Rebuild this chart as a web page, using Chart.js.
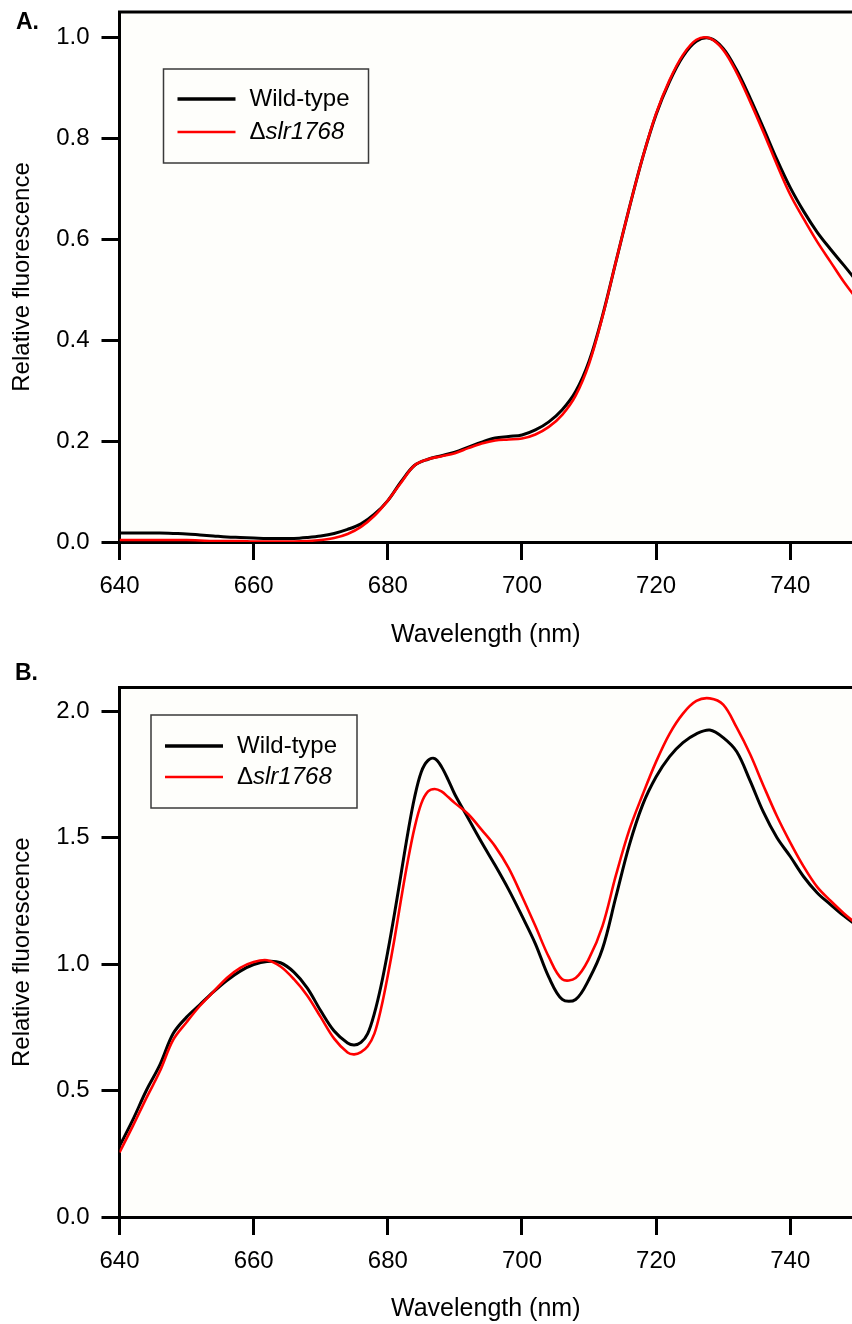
<!DOCTYPE html>
<html>
<head>
<meta charset="utf-8">
<script src="https://cdn.jsdelivr.net/npm/chart.js@4"></script>
<style>
  html, body { margin: 0; padding: 0; background: #ffffff; }
  body { width: 852px; height: 1324px; position: relative; overflow: hidden; }
  .panel { position: absolute; left: 0; width: 852px; height: 662px; }
  #pa { top: 0; }
  #pb { top: 662px; }
</style>
</head>
<body>
<div class="panel" id="pa"><canvas id="ca"></canvas></div>
<div class="panel" id="pb"><canvas id="cb"></canvas></div>
<script>
// ---------- data ----------
const seriesNames = ['Wild-type', 'Δslr1768'];
const xTitle = 'Wavelength (nm)';
const yTitle = 'Relative fluorescence';

const wavelengthA = [640,642,644,646,648,650,652,654,656,658,660,662,664,666,668,670,672,674,676,678,
  680,682,684,686,688,690,692,694,696,698,700,702,704,706,708,710,712,714,716,718,
  720,722,724,726,728,730,732,734,736,738,740,742,744,746,748,750];
const wildTypeA = [0.018,0.018,0.018,0.018,0.017,0.016,0.014,0.012,0.010,0.009,
  0.008,0.007,0.007,0.007,0.009,0.012,0.017,0.025,0.036,0.055,
  0.082,0.120,0.152,0.164,0.171,0.178,0.188,0.198,0.206,0.209,
  0.212,0.222,0.238,0.262,0.298,0.358,0.448,0.555,0.662,0.762,
  0.847,0.912,0.962,0.992,0.998,0.978,0.935,0.880,0.820,0.758,
  0.702,0.655,0.614,0.580,0.548,0.515];
const mutantA = [0.004,0.004,0.004,0.004,0.004,0.004,0.003,0.002,0.002,0.002,
  0.001,0.001,0.001,0.001,0.002,0.004,0.008,0.016,0.030,0.052,
  0.082,0.118,0.152,0.164,0.170,0.176,0.186,0.195,0.201,0.203,
  0.205,0.213,0.228,0.252,0.290,0.353,0.446,0.555,0.662,0.762,
  0.849,0.915,0.965,0.995,0.998,0.975,0.930,0.873,0.812,0.748,
  0.688,0.640,0.595,0.555,0.515,0.480];

const wavelengthB = [640,642,644,646,648,650,652,654,656,658,660,662,664,666,668,670,672,674,
  675,676,677,678,679,680,681,682,683,684,685,686,687,688,689,690,
  692,694,696,698,700,702,704,706,708,710,712,714,716,718,720,722,724,726,728,730,
  732,734,736,738,740,742,744,746,748,750];
const wildTypeB = [0.28,0.385,0.50,0.60,0.725,0.79,0.84,0.89,0.935,0.972,0.998,1.010,1.005,0.968,0.905,0.815,0.735,0.688,
  0.680,0.690,0.725,0.805,0.915,1.050,1.200,1.360,1.520,1.660,1.760,1.805,1.812,1.780,1.728,1.670,
  1.575,1.480,1.390,1.295,1.190,1.080,0.948,0.860,0.860,0.940,1.060,1.265,1.470,1.630,1.740,1.820,1.875,1.910,1.925,1.895,
  1.840,1.725,1.600,1.500,1.425,1.345,1.282,1.235,1.190,1.150];
const mutantB = [0.255,0.36,0.47,0.575,0.70,0.77,0.835,0.89,0.945,0.985,1.008,1.015,0.990,0.940,0.875,0.790,0.705,0.650,
  0.643,0.652,0.675,0.725,0.825,0.955,1.100,1.260,1.410,1.540,1.635,1.682,1.692,1.682,1.660,1.636,
  1.592,1.530,1.465,1.380,1.268,1.150,1.028,0.940,0.945,1.022,1.150,1.350,1.530,1.670,1.800,1.910,1.990,2.040,2.050,2.025,
  1.935,1.830,1.705,1.585,1.480,1.385,1.305,1.250,1.200,1.155];

const xTicksStep = 20;
const yTicksStepA = 0.2;
const yTicksStepB = 0.5;

// ---------- helpers ----------
const FONT = "'Liberation Sans', Arial, Helvetica, sans-serif";

function pts(xs, ys) { return xs.map((x, i) => ({ x: x, y: ys[i] })); }

const panelPlugin = {
  id: 'panelDecor',
  beforeDraw(chart, args, opts) {
    const { ctx, chartArea: a } = chart;
    ctx.save();
    ctx.fillStyle = '#fefefb';
    ctx.fillRect(a.left, a.top, a.right - a.left, a.bottom - a.top);
    ctx.restore();
  },
  afterDraw(chart, args, opts) {
    const { ctx, chartArea: a } = chart;
    ctx.save();
    // top frame line
    ctx.strokeStyle = '#000';
    ctx.lineWidth = 3;
    ctx.beginPath();
    ctx.moveTo(a.left - 1.5, a.top);
    ctx.lineTo(chart.width, a.top);
    ctx.stroke();
    // panel letter
    ctx.fillStyle = '#000';
    ctx.font = 'bold 23px ' + FONT;
    ctx.textBaseline = 'alphabetic';
    ctx.textAlign = 'left';
    ctx.fillText(opts.letter, opts.letterX, opts.letterY);
    // legend
    const L = opts.legend;
    ctx.lineWidth = 1.5;
    ctx.strokeStyle = '#3a3a3a';
    ctx.strokeRect(L.x, L.y, L.w, L.h);
    const ds = chart.data.datasets;
    const rows = [ds.find(d => d.label === seriesNames[0]), ds.find(d => d.label === seriesNames[1])];
    rows.forEach((d, i) => {
      const y = L.rowY[i];
      ctx.strokeStyle = d.borderColor;
      ctx.lineWidth = i === 0 ? 3.4 : 2.6;
      ctx.beginPath();
      ctx.moveTo(L.lineX0, y);
      ctx.lineTo(L.lineX1, y);
      ctx.stroke();
      ctx.fillStyle = '#000';
      ctx.textBaseline = 'middle';
      ctx.textAlign = 'left';
      ctx.font = '24px ' + FONT;
      const label = d.label;
      if (label.charAt(0) === 'Δ') {
        ctx.fillText('Δ', L.textX, y);
        const w = ctx.measureText('Δ').width;
        ctx.font = 'italic 24px ' + FONT;
        ctx.fillText(label.slice(1), L.textX + w, y);
      } else {
        ctx.fillText(label, L.textX, y);
      }
    });
    ctx.restore();
  }
};

function makeChart(canvasId, wl, wt, mu, yMax, yStep, cfg) {
  const axisCommon = {
    grid: { display: true, drawOnChartArea: false, drawTicks: true, tickLength: 18, tickWidth: 3, tickColor: '#000', color: '#000' },
    border: { display: true, color: '#000', width: 3 },
  };
  return new Chart(document.getElementById(canvasId), {
    type: 'line',
    data: {
      datasets: [
        { label: seriesNames[1], data: pts(wl, mu), borderColor: '#ff0000', borderWidth: 2.6, pointRadius: 0, fill: false, tension: 0.35, order: 0 },
        { label: seriesNames[0], data: pts(wl, wt), borderColor: '#000000', borderWidth: 3, pointRadius: 0, fill: false, tension: 0.35, order: 1 }
      ]
    },
    options: {
      responsive: true,
      maintainAspectRatio: false,
      animation: false,
      events: [],
      layout: { padding: { top: cfg.padTop, left: 0, right: 0, bottom: 0 } },
      plugins: {
        legend: { display: false },
        tooltip: { enabled: false },
        panelDecor: cfg.decor
      },
      scales: {
        x: Object.assign({}, axisCommon, {
          type: 'linear', position: 'bottom', min: 640, max: 749.2,
          ticks: { stepSize: xTicksStep, includeBounds: false, autoSkip: false, maxRotation: 0, color: '#000', padding: 12,
                   font: { family: FONT, size: 24 }, callback: v => String(v) },
          title: { display: true, text: xTitle, color: '#000', font: { family: FONT, size: 25 }, padding: { top: 0, bottom: cfg.xTitlePad } },
          afterFit: s => { s.height = cfg.xHeight; s.paddingLeft = 0; s.paddingRight = 0; }
        }),
        y: Object.assign({}, axisCommon, {
          type: 'linear', position: 'left', min: 0, max: yMax,
          ticks: { stepSize: yStep, includeBounds: false, color: '#000', padding: 12,
                   font: { family: FONT, size: 24 }, callback: v => Number(v).toFixed(1) },
          title: { display: true, text: yTitle, color: '#000', font: { family: FONT, size: 24 }, padding: { top: 8, bottom: 0 } },
          afterFit: s => { s.width = 119.5; s.paddingTop = 0; s.paddingBottom = 0; }
        })
      }
    },
    plugins: [panelPlugin]
  });
}

makeChart('ca', wavelengthA, wildTypeA, mutantA, 1.05, yTicksStepA, {
  padTop: 12, xHeight: 120, xTitlePad: 12,
  decor: { letter: 'A.', letterX: 16, letterY: 29,
    legend: { x: 163.5, y: 69, w: 205, h: 94, rowY: [99, 132], lineX0: 177.5, lineX1: 235.5, textX: 249.5 } }
});
makeChart('cb', wavelengthB, wildTypeB, mutantB, 2.093, yTicksStepB, {
  padTop: 25.5, xHeight: 107, xTitlePad: 0,
  decor: { letter: 'B.', letterX: 15, letterY: 18,
    legend: { x: 151, y: 53, w: 206, h: 93, rowY: [84, 115], lineX0: 165, lineX1: 223, textX: 237 } }
});
</script>
</body>
</html>
